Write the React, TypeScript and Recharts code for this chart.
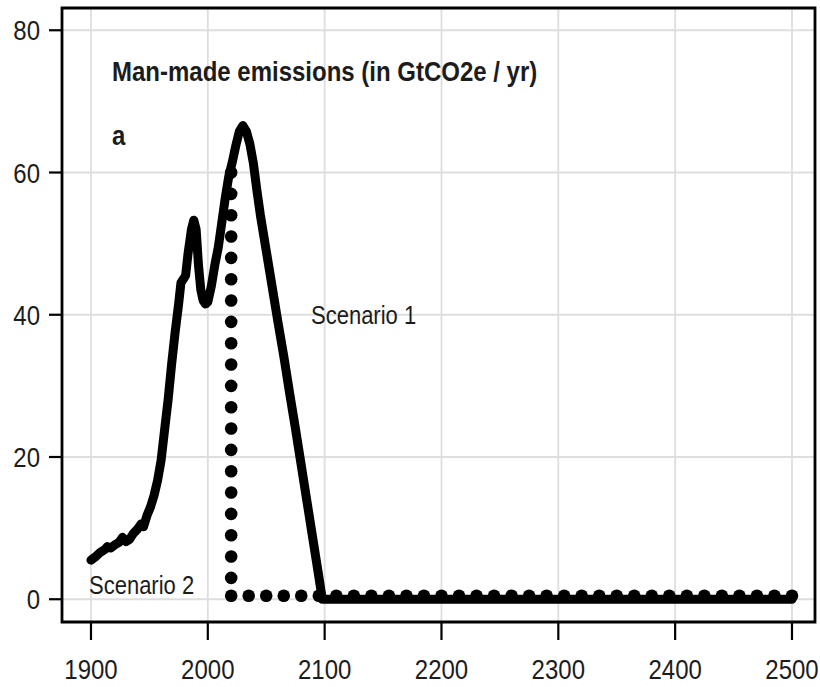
import React from 'react';
import {
  ComposedChart,
  Line,
  Scatter,
  XAxis,
  YAxis,
  CartesianGrid,
  ReferenceArea,
  Customized,
} from 'recharts';

// Scenario 1: historical emissions, then a linear phase-out to zero by ~2100
const scenario1Years = [
  1900, 1904, 1908, 1912, 1914, 1917, 1920, 1924, 1927, 1930, 1933, 1936, 1940, 1943, 1945,
  1948, 1951, 1954, 1957, 1960, 1963, 1966, 1969, 1972, 1975, 1977, 1979, 1981, 1983, 1986,
  1988, 1990, 1992, 1994, 1996, 1998, 2000, 2003, 2006, 2009, 2012, 2015, 2018, 2021, 2024,
  2027, 2030, 2033, 2036, 2039, 2042, 2045, 2050, 2055, 2060, 2065, 2070, 2075, 2080, 2085,
  2090, 2095, 2098, 2500,
];
const scenario1Values = [
  5.5, 6.0, 6.6, 7.0, 7.4, 7.2, 7.6, 8.0, 8.7, 8.1, 8.4, 9.2, 9.9, 10.6, 10.2,
  11.8, 13.0, 14.6, 16.7, 19.5, 23.8, 28.0, 33.0, 37.5, 41.5, 44.5, 45.0, 45.5, 48.5, 52.0,
  53.3, 52.0, 47.0, 43.5, 42.0, 41.5, 41.8, 44.0, 47.0, 49.5, 53.0, 56.5, 59.5, 61.5, 63.8,
  65.8, 66.6, 65.8, 64.0, 61.3, 57.5, 54.0, 49.0, 44.0, 39.0, 34.2, 29.0, 24.0, 18.8, 13.6,
  8.4, 3.2, 0, 0,
];

// Scenario 2: abrupt stop in 2020, drawn as points
const dropYear = 2020;
const dropValues = [60, 57, 54, 51, 48, 45, 42, 39, 36, 33, 30, 27, 24, 21, 18, 15, 12, 9, 6, 3];
const floorValue = 0.5;
const floorYears = [
  2020, 2035, 2050, 2065, 2080, 2095, 2110, 2125, 2140, 2155, 2170, 2185, 2200, 2215, 2230,
  2245, 2260, 2275, 2290, 2305, 2320, 2335, 2350, 2365, 2380, 2395, 2410, 2425, 2440, 2455,
  2470, 2485, 2500,
];

const xTicks = [1900, 2000, 2100, 2200, 2300, 2400, 2500];
const yTicks = [0, 20, 40, 60, 80];

const xDomain: [number, number] = [1875.2, 2519.7];
const yDomain: [number, number] = [-3.2, 83.13];

const scenario1 = scenario1Years.map((year, i) => ({ year, value: scenario1Values[i] }));
const scenario2 = [
  ...dropValues.map((value) => ({ year: dropYear, value })),
  ...floorYears.map((year) => ({ year, value: floorValue })),
];

const FONT = '"Liberation Sans", Arial, Helvetica, sans-serif';
const INK = '#1c1c1c';
const STRETCH = 1.17; // glyphs are a little taller than wide

// text placed at (x, y) baseline, stretched vertically
const Label = ({ x, y, size, bold, anchor, children }: any) => (
  <text
    transform={`translate(${x},${y}) scale(1,${STRETCH})`}
    textAnchor={anchor || 'start'}
    fontSize={size}
    fontWeight={bold ? 'bold' : 'normal'}
    fontFamily={FONT}
    fill={INK}
  >
    {children}
  </text>
);

const XTick = ({ x, payload }: any) => (
  <Label x={x} y={679} size={24} anchor="middle">
    {payload.value}
  </Label>
);

const YTick = ({ y, payload }: any) => (
  <Label x={40} y={y + 10} size={24} anchor="end">
    {payload.value}
  </Label>
);

const Dot = ({ cx, cy }: any) => <circle cx={cx} cy={cy} r={6.3} fill="#000" />;

const Annotations = () => (
  <g>
    <Label x={112} y={81} size={24} bold>
      Man-made emissions (in GtCO2e / yr)
    </Label>
    <Label x={112} y={145} size={24} bold>
      a
    </Label>
    <Label x={311} y={324} size={22}>
      Scenario 1
    </Label>
    <Label x={89} y={594} size={22}>
      Scenario 2
    </Label>
  </g>
);

export default function App() {
  return (
    <div style={{ position: 'absolute', left: 0, top: 0, background: '#fff' }}>
      <ComposedChart width={820} height={687} margin={{ top: 8, right: 5, bottom: 0, left: 0 }}>
        <CartesianGrid stroke="#dedede" strokeWidth={1.8} />
        <XAxis
          type="number"
          dataKey="year"
          domain={xDomain}
          ticks={xTicks}
          allowDataOverflow
          height={65}
          axisLine={false}
          tickSize={18}
          tickLine={{ stroke: '#000', strokeWidth: 2.2 }}
          tick={<XTick />}
        />
        <YAxis
          type="number"
          dataKey="value"
          domain={yDomain}
          ticks={yTicks}
          allowDataOverflow
          width={62}
          axisLine={false}
          tickSize={13}
          tickLine={{ stroke: '#000', strokeWidth: 2.2 }}
          tick={<YTick />}
        />
        <ReferenceArea
          x1={xDomain[0]}
          x2={xDomain[1]}
          y1={yDomain[0]}
          y2={yDomain[1]}
          fill="none"
          stroke="#000"
          strokeWidth={2.8}
          ifOverflow="visible"
        />
        <Scatter data={scenario2} dataKey="value" shape={<Dot />} isAnimationActive={false} />
        <Line
          data={scenario1}
          dataKey="value"
          type="linear"
          stroke="#000"
          strokeWidth={9}
          strokeLinejoin="round"
          strokeLinecap="round"
          dot={false}
          activeDot={false}
          isAnimationActive={false}
        />
        <Customized component={Annotations} />
      </ComposedChart>
    </div>
  );
}
